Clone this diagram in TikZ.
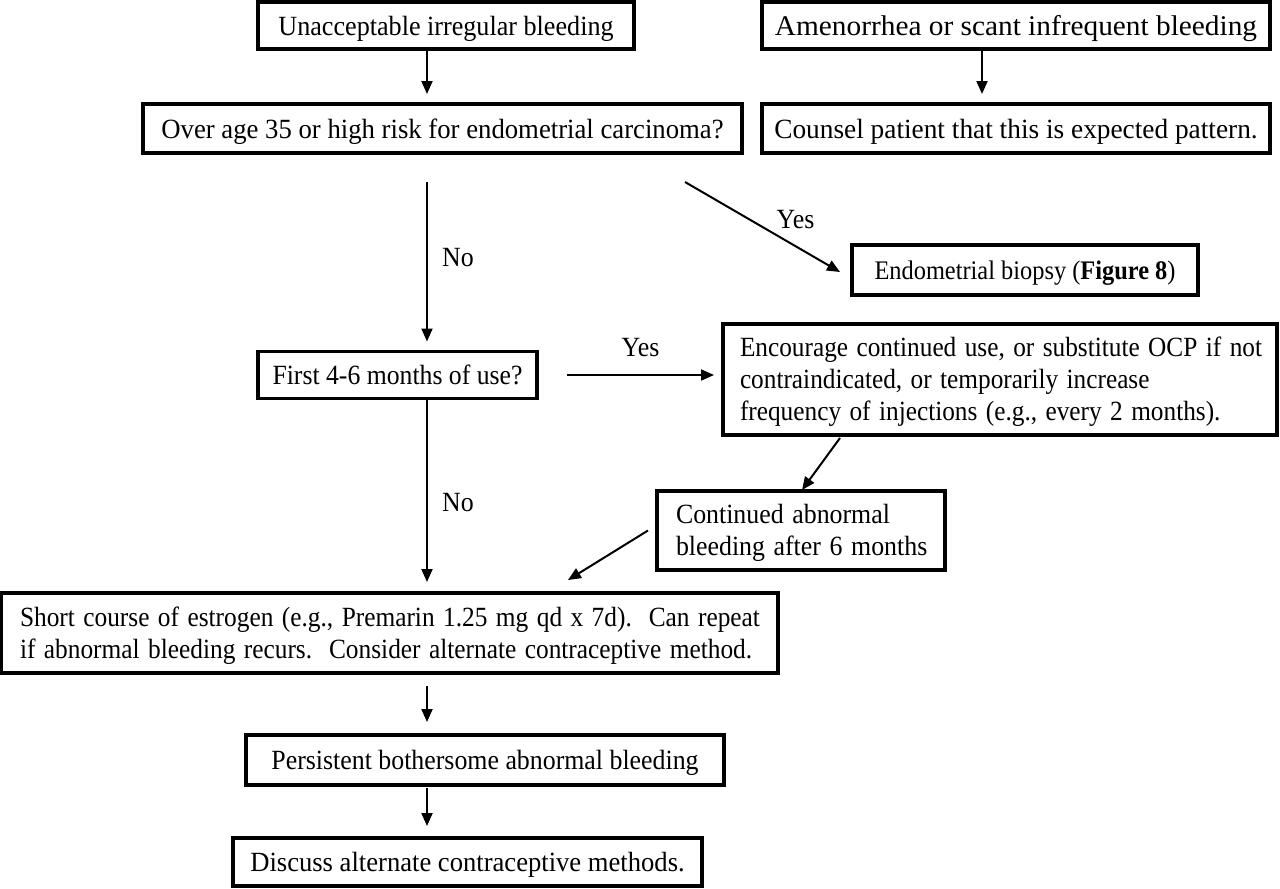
\documentclass[tikz,border=0pt]{standalone}
\usepackage{graphicx}
\usepackage{fontspec}
\setmainfont{Liberation Serif}
\usetikzlibrary{arrows.meta,calc}
\newcommand{\fsz}[1]{\fontsize{#1}{32}\selectfont}
\newcommand{\dfont}{\fsz{27.8}}
\newcommand{\hx}[2]{\scalebox{#1}[1]{#2}}
\newcommand{\topstrut}{\rule{0pt}{24pt}}
\begin{document}
\begin{tikzpicture}[x=1pt,y=-1pt,
  box/.style={draw,line width=3.5pt,inner sep=0pt,outer sep=0pt,font=\dfont,
    text height=24pt,text depth=5pt},
  lbox/.style={draw,line width=3.5pt,inner sep=0pt,outer sep=0pt,font=\dfont,
    align=left,inner xsep=#1},
  arr/.style={line width=2pt,-{Triangle[length=13pt,width=11pt]}},
  lbl/.style={font=\dfont,inner sep=0pt}]
\useasboundingbox[fill=white] (0,0) rectangle (1280,889);
\coordinate (col) at (427,0);
\coordinate (colr) at (982,0);
% boxes
\node[box,minimum width=376pt,minimum height=47pt] (A) at (446,25.5)
  {\hx{0.94}{Unacceptable irregular bleeding}};
\node[box,font=\fsz{28.5},minimum width=508pt,minimum height=47pt] (B) at (1016,25.5)
  {\hx{1.029}{Amenorrhea or scant infrequent bleeding}};
\node[box,minimum width=599pt,minimum height=49pt] (C) at (442.5,128.5)
  {\hx{0.961}{Over age 35 or high risk for endometrial carcinoma?}};
\node[box,minimum width=508pt,minimum height=49pt] (D) at (1016,128.5)
  {\hx{0.983}{Counsel patient that this is expected pattern.}};
\node[box,font=\fsz{26.8},minimum width=346pt,minimum height=50pt] (E) at (1025,270)
  {\hx{0.91}{Endometrial biopsy (\textbf{Figure 8})}};
\node[box,minimum width=279pt,minimum height=47pt] (F) at (397.5,375)
  {\hx{0.925}{First 4-6 months of use?}};
\node[lbox=17pt,text width=520pt,minimum height=111pt] (G) at (1000,379.5)
  {\topstrut\hx{0.91}{\makebox[570pt][s]{Encourage continued use, or substitute OCP if not}}\\
   \hx{0.91}{contraindicated, or temporarily increase}\\
   \hx{0.91}{\makebox[570pt][s]{frequency of injections (e.g., every 2 months).}}};
\node[lbox=19pt,text width=250pt,minimum height=79pt] (H) at (801,530.5)
  {\topstrut\hx{0.93}{Continued abnormal}\\\hx{0.93}{bleeding after 6 months}};
\node[lbox=19pt,text width=739pt,minimum height=80pt] (I) at (389.5,633)
  {\topstrut\hx{0.912}{\makebox[811pt][s]{Short course of estrogen (e.g., Premarin 1.25 mg qd x 7d).\ \ Can repeat}}\\
   \hx{0.912}{\makebox[811pt][s]{if abnormal bleeding recurs.\ \ Consider alternate contraceptive method.}}};
\node[box,minimum width=478pt,minimum height=50pt] (J) at (485,760)
  {\hx{0.93}{Persistent bothersome abnormal bleeding}};
\node[box,minimum width=469pt,minimum height=48pt] (K) at (467.5,862)
  {\hx{0.957}{Discuss alternate contraceptive methods.}};
% connectors
\draw[arr] ($(A.south -| col)+(0,1)$) -- ($(C.north -| col)+(0,-10)$);
\draw[arr] ($(B.south -| colr)+(0,1)$) -- ($(D.north -| colr)+(0,-10)$);
\draw[arr] ($(C.south -| col)+(0,29)$) -- node[lbl,xshift=31pt,yshift=4pt]{\hx{0.93}{No}} ($(F.north -| col)+(0,-10)$);
\draw[arr] ($(C.south east)+(-57,29)$) -- node[lbl,xshift=33pt,yshift=7pt]{\hx{0.93}{Yes}} ($(E.west)+(-12,2)$);
\draw[arr] ($(F.east)+(30,0)$) -- node[lbl,yshift=27pt]{\hx{0.93}{Yes}} ($(G.west |- F.east)+(-9,0)$);
\draw[arr] ($(F.south -| col)+(0,1)$) -- node[lbl,xshift=31pt,yshift=-12pt]{\hx{0.93}{No}} ($(I.north -| col)+(0,-11)$);
\draw[arr] ($(G.south west)+(117,3)$) -- ($(H.north)+(1,-1)$);
\draw[arr] ($(H.west)+(-9,0)$) -- ($(I.north east)+(-210,-13)$);
\draw[arr] ($(I.south -| col)+(0,13)$) -- ($(J.north -| col)+(0,-13)$);
\draw[arr] ($(J.south -| col)+(0,3)$) -- ($(K.north -| col)+(0,-12)$);
\end{tikzpicture}
\end{document}
